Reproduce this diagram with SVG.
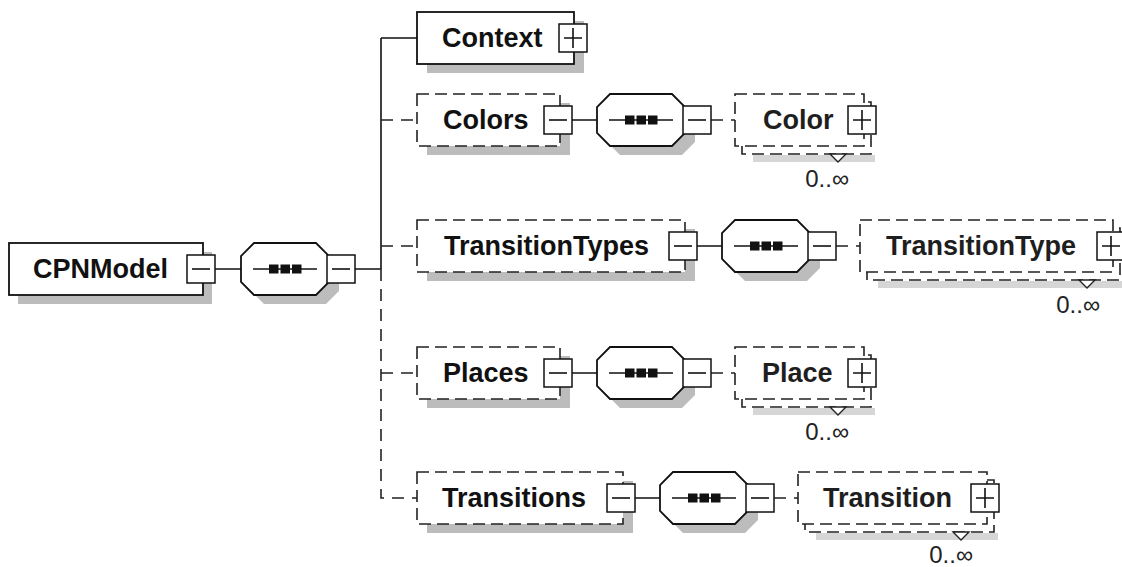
<svg xmlns="http://www.w3.org/2000/svg" xmlns:xlink="http://www.w3.org/1999/xlink" width="1122" height="567" viewBox="0 0 1122 567">
<style>
.bg{fill:#fff}
.sh{fill:#bcbcbc}
.lsh{fill:#d6d6d6}
.solid{fill:#fff;stroke:#111;stroke-width:1.8}
.dash{fill:#fff;stroke:#222;stroke-width:1.6;stroke-dasharray:12 6}
.ln{fill:none;stroke:#111;stroke-width:1.6}
.dl{fill:none;stroke:#222;stroke-width:1.6;stroke-dasharray:12 8}
.btn{fill:#fff;stroke:#111;stroke-width:1.5}
.t{font-family:"Liberation Sans",Arial,sans-serif;font-weight:bold;font-size:27px;fill:#111}
.c{fill:#1e1e1e}
.m{font-family:"Liberation Sans",Arial,sans-serif;font-size:24px;fill:#222}
.tri{fill:#fff;stroke:#222;stroke-width:1.4}
</style>
<defs>
<g id="minus"><rect class="btn" x="0" y="-14" width="28" height="28"/><path class="ln" d="M5,0H23"/></g>
<g id="plus"><rect class="btn" x="0" y="-14" width="28" height="28"/><path class="ln" d="M5,0H23M14,-10V10"/></g>
<g id="seq">
<polygon class="sh" points="23,-17 85,-17 98,-4 98,22 85,35 23,35 10,22 10,-4"/>
<polygon class="solid" points="13,-26 75,-26 88,-13 88,13 75,26 13,26 0,13 0,-13"/>
<path class="ln" d="M12,0H76"/>
<rect x="28" y="-4.5" width="9.5" height="9" fill="#111"/>
<rect x="39.5" y="-4.5" width="9.5" height="9" fill="#111"/>
<rect x="51" y="-4.5" width="9.5" height="9" fill="#111"/>
<use xlink:href="#minus" x="86" y="0"/>
</g>
</defs>
<rect class="bg" x="0" y="0" width="1122" height="567"/>

<g id="connectors">
<path class="ln" d="M215,269H241M355,269H381M381,38V269M381,38H417"/>
<path class="dl" d="M381,269V498H417M381,120H417M381,246H417M381,373H417"/>
<path class="ln" d="M572,120H597M697,246H722M572,373H597M635,498H660"/>
<path class="dl" d="M711,120H735M836,246H860M711,373H735M774,498H798"/>
</g>

<g id="CPNModel">
<rect class="sh" x="18" y="252" width="194" height="52"/>
<rect class="solid" x="9" y="243" width="194" height="52"/>
<text class="t" x="33" y="278">CPNModel</text>
<use xlink:href="#minus" x="187" y="269"/>
</g>
<g id="CPNModel-seq"><use xlink:href="#seq" transform="translate(241,269)"/></g>

<g id="Context">
<rect class="sh" x="427" y="21" width="157" height="52"/>
<rect class="solid" x="417" y="12" width="157" height="52"/>
<text class="t" x="442" y="47">Context</text>
<use xlink:href="#plus" x="559" y="38"/>
</g>

<g id="Colors">
<rect class="sh" x="427" y="103" width="143" height="52"/>
<rect class="dash" x="417" y="94" width="143" height="52"/>
<text class="t" x="443" y="129">Colors</text>
<use xlink:href="#minus" x="544" y="120"/>
</g>
<g id="Colors-seq"><use xlink:href="#seq" transform="translate(597,120)"/></g>
<g id="Color">
<rect class="lsh" x="753" y="155" width="122" height="7"/>
<rect class="dash" x="742" y="102" width="129" height="52"/>
<rect class="dash" x="735" y="94" width="129" height="52"/>
<polygon class="tri" points="830,154 846,154 838,162"/>
<text class="t c" x="763" y="129">Color</text>
<use xlink:href="#plus" x="848" y="120"/>
<text class="m" x="849" y="187" text-anchor="end">0..∞</text>
</g>

<g id="TransitionTypes">
<rect class="sh" x="427" y="229" width="268" height="52"/>
<rect class="dash" x="417" y="220" width="268" height="52"/>
<text class="t" x="444" y="255">TransitionTypes</text>
<use xlink:href="#minus" x="669" y="246"/>
</g>
<g id="TransitionTypes-seq"><use xlink:href="#seq" transform="translate(722,246)"/></g>
<g id="TransitionType">
<rect class="lsh" x="878" y="281" width="250" height="7"/>
<rect class="dash" x="867" y="228" width="253" height="52"/>
<rect class="dash" x="860" y="220" width="253" height="52"/>
<polygon class="tri" points="1079,280 1095,280 1087,288"/>
<text class="t c" x="886" y="255">TransitionType</text>
<use xlink:href="#plus" x="1097" y="246"/>
<text class="m" x="1100" y="313" text-anchor="end">0..∞</text>
</g>

<g id="Places">
<rect class="sh" x="427" y="356" width="143" height="52"/>
<rect class="dash" x="417" y="347" width="143" height="52"/>
<text class="t" x="443" y="382">Places</text>
<use xlink:href="#minus" x="544" y="373"/>
</g>
<g id="Places-seq"><use xlink:href="#seq" transform="translate(597,373)"/></g>
<g id="Place">
<rect class="lsh" x="753" y="408" width="122" height="7"/>
<rect class="dash" x="742" y="355" width="129" height="52"/>
<rect class="dash" x="735" y="347" width="129" height="52"/>
<polygon class="tri" points="830,407 846,407 838,415"/>
<text class="t c" x="762" y="382">Place</text>
<use xlink:href="#plus" x="848" y="373"/>
<text class="m" x="849" y="440" text-anchor="end">0..∞</text>
</g>

<g id="Transitions">
<rect class="sh" x="427" y="481" width="206" height="52"/>
<rect class="dash" x="417" y="472" width="206" height="52"/>
<text class="t" x="442" y="507">Transitions</text>
<use xlink:href="#minus" x="607" y="498"/>
</g>
<g id="Transitions-seq"><use xlink:href="#seq" transform="translate(660,498)"/></g>
<g id="Transition">
<rect class="lsh" x="816" y="533" width="182" height="7"/>
<rect class="dash" x="805" y="480" width="189" height="52"/>
<rect class="dash" x="798" y="472" width="189" height="52"/>
<polygon class="tri" points="953,532 969,532 961,540"/>
<text class="t c" x="823" y="507">Transition</text>
<use xlink:href="#plus" x="971" y="498"/>
<text class="m" x="973" y="563" text-anchor="end">0..∞</text>
</g>
</svg>
